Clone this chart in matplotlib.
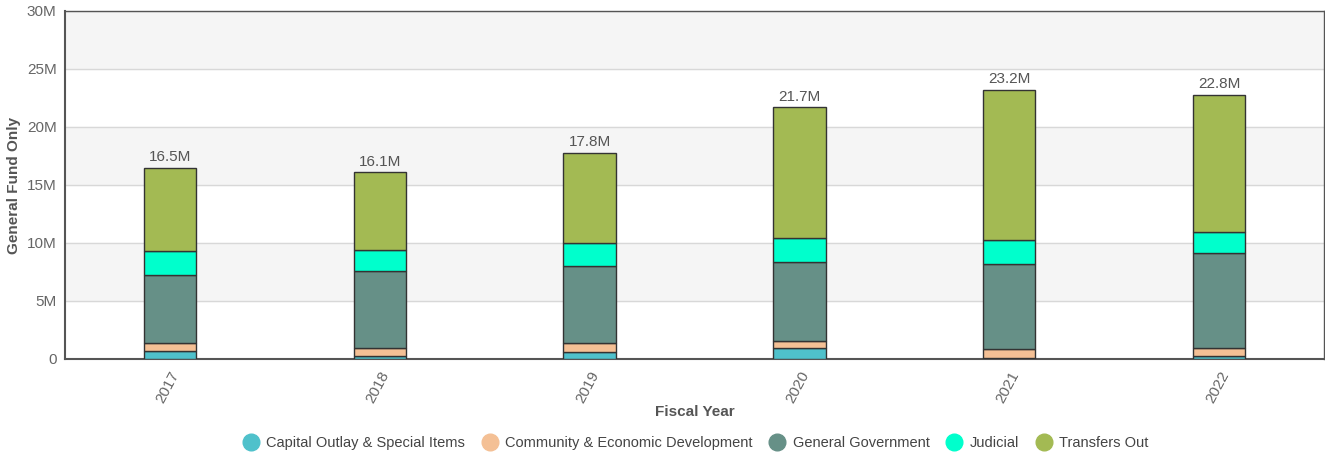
import numpy as np
import matplotlib.pyplot as plt
from matplotlib.lines import Line2D

plt.rcParams['font.family'] = ['Liberation Sans', 'DejaVu Sans']

years = ['2017', '2018', '2019', '2020', '2021', '2022']
series = ['Capital Outlay & Special Items', 'Community & Economic Development',
          'General Government', 'Judicial', 'Transfers Out']
capital = [0.72, 0.26, 0.63, 0.92, 0.10, 0.26]
community = [0.63, 0.66, 0.72, 0.63, 0.74, 0.69]
general_gov = [5.85, 6.65, 6.68, 6.77, 7.31, 8.18]
judicial = [2.10, 1.82, 1.99, 2.07, 2.07, 1.81]
transfers = [7.20, 6.71, 7.78, 11.31, 12.98, 11.86]
totals = ['16.5M', '16.1M', '17.8M', '21.7M', '23.2M', '22.8M']

colors = ['#4fc1cb', '#f4c095', '#669087', '#00ffcc', '#a3ba53']

fig = plt.figure(figsize=(13.25, 4.57), dpi=100)
ax = fig.add_axes([65 / 1325, 1 - 359 / 457, 1259 / 1325, 348 / 457])

x = np.arange(len(years))
bottom = np.zeros(len(years))
for vals, col in zip([capital, community, general_gov, judicial, transfers], colors):
    ax.bar(x, vals, bottom=bottom, width=0.25, color=col, edgecolor='#333333',
           linewidth=1, zorder=3)
    bottom += np.array(vals)

for xi, top, lab in zip(x, bottom, totals):
    ax.text(xi, top + 0.3, lab, ha='center', va='bottom', fontsize=11, color='#555555')

# alternating background bands
for lo in range(0, 30, 5):
    if (lo // 5) % 2 == 1:
        ax.axhspan(lo, lo + 5, color='#f5f5f5', zorder=0)
ax.grid(axis='y', color='#d8d8d8', linewidth=1, zorder=1)

ax.set_xlim(-0.5, len(years) - 0.5)
ax.set_ylim(0, 30)
ax.set_yticks(range(0, 31, 5))
ax.set_yticklabels(['0', '5M', '10M', '15M', '20M', '25M', '30M'])
ax.set_xticks(x)
ax.set_xticklabels(years, rotation=62, ha='right', rotation_mode='anchor')
ax.tick_params(axis='both', colors='#666666', labelsize=11, length=0, pad=6)
ax.tick_params(axis='x', pad=7)

for side, sp in ax.spines.items():
    sp.set_color('#555555')
    sp.set_linewidth(1.5 if side in ('left', 'bottom') else 1)

ax.set_xlabel('Fiscal Year', fontsize=11, fontweight='bold', color='#555555', labelpad=0)
ax.set_ylabel('General Fund Only', fontsize=11, fontweight='bold', color='#555555', labelpad=4)

handles = [Line2D([0], [0], marker='o', linestyle='', markersize=12,
                  markerfacecolor=c, markeredgecolor=c) for c in colors]
fig.legend(handles, series, loc='center', bbox_to_anchor=(0.5225, 1 - 443 / 457),
           ncol=5, frameon=False, fontsize=10.5, labelcolor='#444444',
           handletextpad=0.05, columnspacing=0.7)

fig.savefig('out.png', dpi=100)
